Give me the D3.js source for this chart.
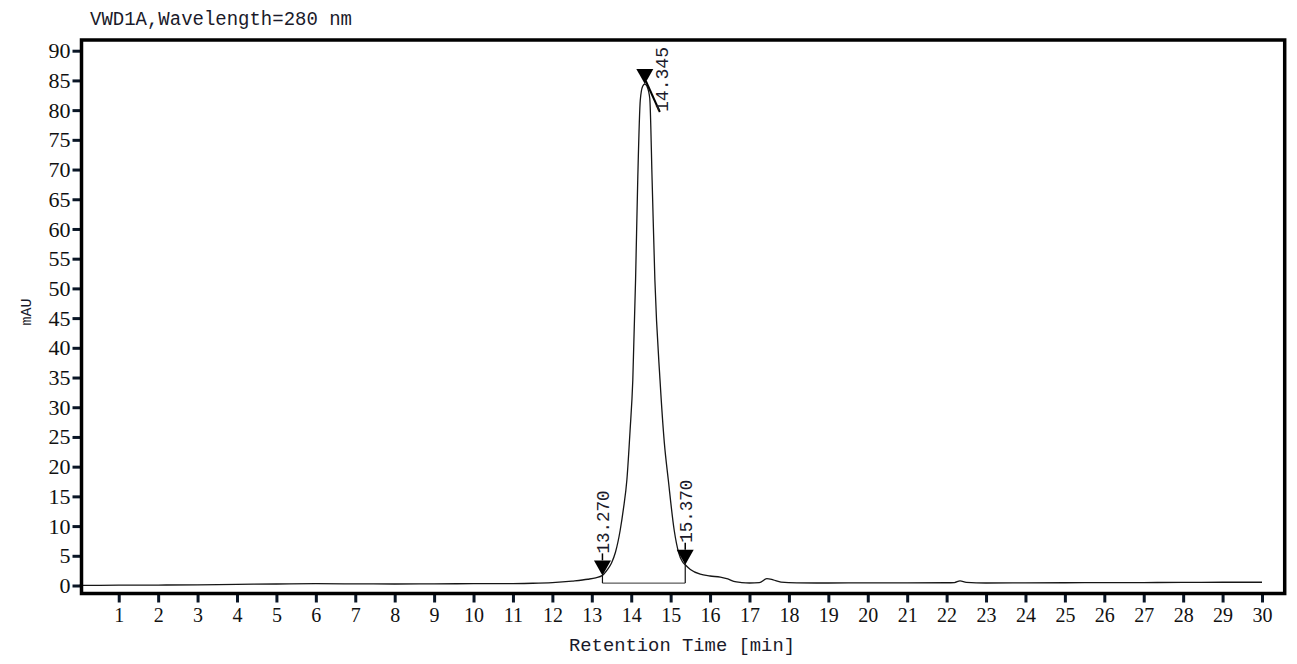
<!DOCTYPE html>
<html>
<head>
<meta charset="utf-8">
<script src="https://cdn.jsdelivr.net/npm/d3@7"></script>
<style>
  body { margin: 0; background: #fff; }
  svg { display: block; }
</style>
</head>
<body>
<script>
var w = 1297;
var h = 664;

// chromatogram, retention time (min) and signal (mAU)
var times = [0, 1, 2, 3, 4, 5, 6, 7, 8, 9, 10, 11, 11.5, 12, 12.5, 12.9, 13.1, 13.27,
    13.4, 13.5, 13.6, 13.72, 13.8, 13.89, 13.97, 14.04, 14.11, 14.165, 14.23, 14.29, 14.345, 14.4,
    14.47, 14.53, 14.6, 14.73, 14.84, 14.94, 15.09, 15.2, 15.3, 15.37, 15.5, 15.75, 16.0,
    16.26, 16.45, 16.6, 16.8, 17.0, 17.25, 17.44, 17.6, 17.8, 18.2, 19, 20, 21, 22,
    22.2, 22.34, 22.5, 23, 24, 25, 26, 27, 28, 29, 30];
var signal = [0.02, 0.05, 0.08, 0.12, 0.2, 0.25, 0.3, 0.28, 0.25, 0.28, 0.3, 0.33, 0.38, 0.5, 0.75, 1.05, 1.3, 1.7,
    2.7, 3.8, 5.6, 9.3, 12.8, 17.8, 26, 34.6, 51.4, 68.2, 81.7, 84.0, 84.4, 84.0,
    82.0, 68.2, 51.4, 34.6, 24, 17.8, 9.3, 5.6, 4.0, 3.5, 2.7, 1.9, 1.6,
    1.4, 1.1, 0.7, 0.5, 0.42, 0.48, 1.15, 0.95, 0.58, 0.45, 0.42, 0.45, 0.44, 0.46,
    0.5, 0.78, 0.52, 0.42, 0.44, 0.46, 0.48, 0.5, 0.52, 0.55, 0.55];

// integrated peaks
var peakTimes = [13.270, 14.345, 15.370];
var peakLabels = ["13.270", "14.345", "15.370"];
var peakHeights = [1.7, 84.4, 3.5];
var peakBase = 0.4;

var xTicks = d3.range(1, 31);
var yTicks = d3.range(0, 91, 5);

var frame = { left: 81.5, right: 1284.7, top: 40, bottom: 593.5 };

var xScale = d3.scaleLinear().domain([0, 30]).range([79.3, 1262]);
var yScale = d3.scaleLinear().domain([0, 90]).range([585.5, 50.7]);

var svg = d3.select("body").append("svg")
    .attr("width", w)
    .attr("height", h);

// title
svg.append("text")
    .attr("x", 90)
    .attr("y", 25)
    .attr("font-family", "Liberation Mono, monospace")
    .attr("font-size", 20)
    .attr("textLength", 262)
    .attr("lengthAdjust", "spacingAndGlyphs")
    .attr("fill", "#1a1a2a")
    .text("VWD1A,Wavelength=280 nm");

// axes
var xAxis = d3.axisBottom(xScale).tickValues(xTicks).tickSize(9).tickPadding(5);
var yAxis = d3.axisLeft(yScale).tickValues(yTicks).tickSize(9).tickPadding(2);

var gx = svg.append("g")
    .attr("transform", "translate(0," + frame.bottom + ")")
    .call(xAxis);
gx.select(".domain").remove();
gx.selectAll("line").attr("stroke", "#0a1626").attr("stroke-width", 3);
gx.selectAll("text")
    .attr("font-family", "Liberation Serif, serif")
    .attr("font-size", 20)
    .attr("fill", "#111");

var gy = svg.append("g")
    .attr("transform", "translate(" + frame.left + ",0)")
    .call(yAxis);
gy.select(".domain").remove();
gy.selectAll("line").attr("stroke", "#0a1626").attr("stroke-width", 3);
gy.selectAll("text")
    .attr("font-family", "Liberation Serif, serif")
    .attr("font-size", 22)
    .attr("fill", "#111");

// axis titles
svg.append("text")
    .attr("x", 569)
    .attr("y", 651)
    .attr("font-family", "Liberation Mono, monospace")
    .attr("font-size", 19)
    .attr("textLength", 226)
    .attr("lengthAdjust", "spacingAndGlyphs")
    .attr("fill", "#1a1a2a")
    .text("Retention Time [min]");

svg.append("text")
    .attr("transform", "translate(31,312) rotate(-90)")
    .attr("text-anchor", "middle")
    .attr("font-family", "Liberation Mono, monospace")
    .attr("font-size", 15)
    .attr("fill", "#1a1a2a")
    .text("mAU");

// integration baseline and drop lines
svg.append("line")
    .attr("x1", xScale(peakTimes[0]))
    .attr("x2", xScale(peakTimes[2]))
    .attr("y1", yScale(peakBase))
    .attr("y2", yScale(peakBase))
    .attr("stroke", "#333")
    .attr("stroke-width", 1);

[0, 2].forEach(function (i) {
    svg.append("line")
        .attr("x1", xScale(peakTimes[i]))
        .attr("x2", xScale(peakTimes[i]))
        .attr("y1", yScale(peakHeights[i]))
        .attr("y2", yScale(peakBase))
        .attr("stroke", "#111")
        .attr("stroke-width", 1.2);
});

// signal trace
var line = d3.line()
    .x(function (d, i) { return xScale(times[i]); })
    .y(function (d) { return yScale(d); })
    .curve(d3.curveMonotoneX);

svg.append("path")
    .datum(signal)
    .attr("d", line)
    .attr("fill", "none")
    .attr("stroke", "#161616")
    .attr("stroke-width", 1.3);

// peak markers
var triW = 17, triH = 15;
peakTimes.forEach(function (t, i) {
    var px = xScale(t);
    var py = yScale(peakHeights[i]);
    var top = py - triH;
    svg.append("path")
        .attr("d", "M" + (px - triW / 2) + "," + top + "L" + (px + triW / 2) + "," + top + "L" + px + "," + py + "Z")
        .attr("fill", "#000");

    if (i === 1) {
        // label pushed aside by the top frame, with a leader line
        var ty = top + 43;
        svg.append("line")
            .attr("x1", px + 1).attr("y1", py - 3)
            .attr("x2", px + 15).attr("y2", ty)
            .attr("stroke", "#000").attr("stroke-width", 2);
        svg.append("text")
            .attr("transform", "translate(" + (px + 23) + "," + ty + ") rotate(-90)")
            .attr("font-family", "Liberation Mono, monospace")
            .attr("font-size", 19)
            .attr("textLength", 65)
            .attr("lengthAdjust", "spacingAndGlyphs")
            .attr("fill", "#1a1a2a")
            .text(peakLabels[i]);
    } else {
        var ty2 = top - 7;
        svg.append("line")
            .attr("x1", px).attr("x2", px)
            .attr("y1", top).attr("y2", ty2)
            .attr("stroke", "#000").attr("stroke-width", 1.5);
        svg.append("text")
            .attr("transform", "translate(" + (px + 7) + "," + ty2 + ") rotate(-90)")
            .attr("font-family", "Liberation Mono, monospace")
            .attr("font-size", 19)
            .attr("textLength", 63)
            .attr("lengthAdjust", "spacingAndGlyphs")
            .attr("fill", "#1a1a2a")
            .text(peakLabels[i]);
    }
});

// plot frame
svg.append("rect")
    .attr("x", frame.left)
    .attr("y", frame.top)
    .attr("width", frame.right - frame.left)
    .attr("height", frame.bottom - frame.top)
    .attr("fill", "none")
    .attr("stroke", "#000")
    .attr("stroke-width", 3.5);
</script>
</body>
</html>
